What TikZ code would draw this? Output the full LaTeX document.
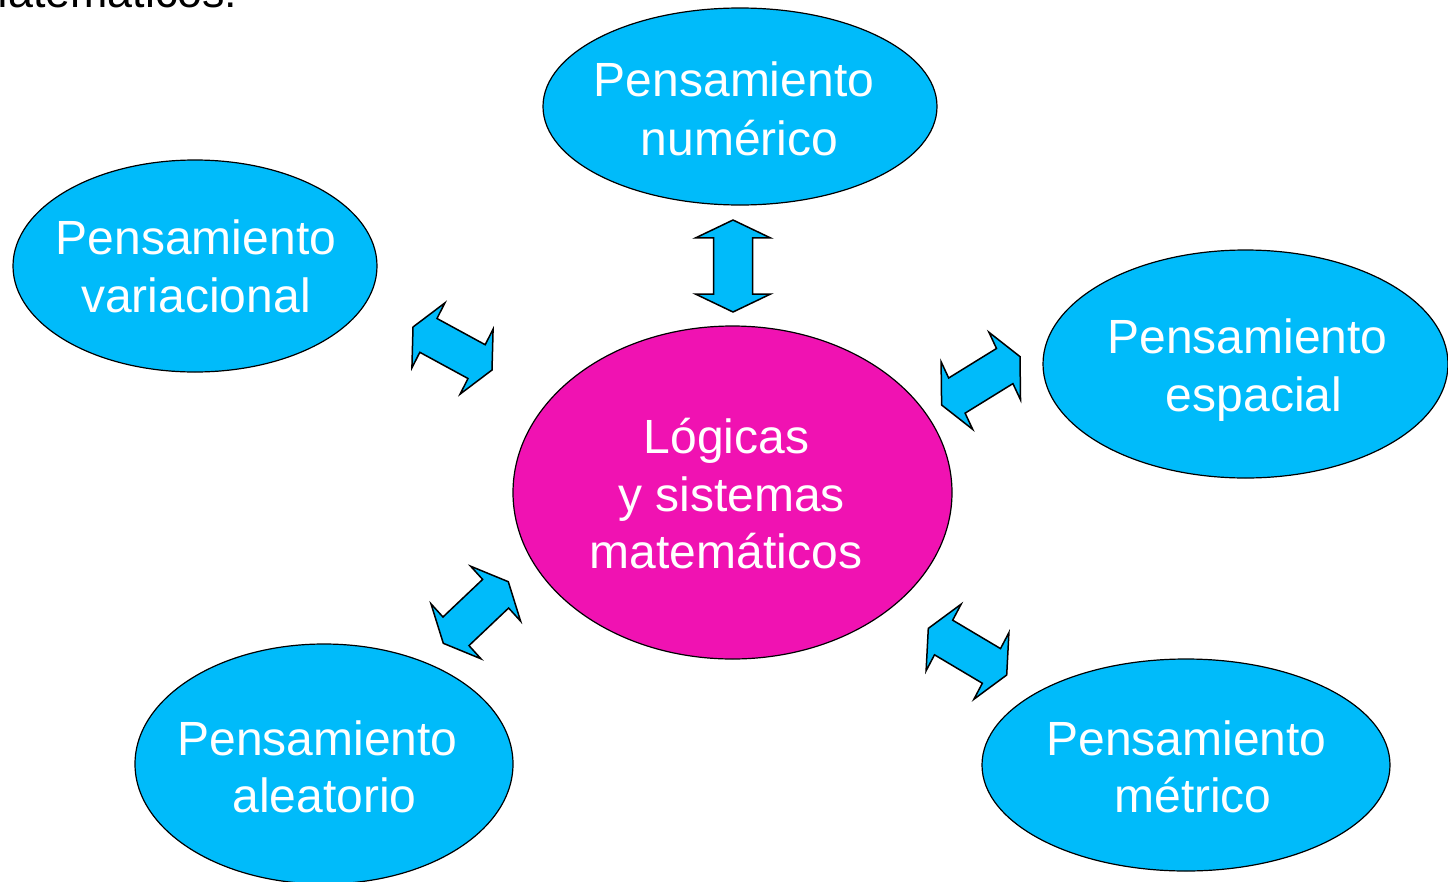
\documentclass[tikz,border=0pt]{standalone}
\usepackage{fontspec}
\setmainfont{Liberation Sans}
\usetikzlibrary{shapes.geometric}
\definecolor{skyfill}{RGB}{0,187,250}
\definecolor{magfill}{RGB}{240,18,178}
\tikzset{
  bubble/.style={ellipse, draw=black, line width=1.2pt, fill=skyfill, inner sep=0pt},
  hub/.style={ellipse, draw=black, line width=1.2pt, fill=magfill, inner sep=0pt},
  txt/.style={text=white, font=\fontsize{48}{56}\selectfont, inner sep=0pt, anchor=base},
  blockarrow/.style={draw=black, line width=1.5pt, fill=skyfill, line join=miter},
  dblarrow/.pic={
    \path[blockarrow] (0,1) -- (1,0.61) -- (0.52,0.61) -- (0.52,-0.61) -- (1,-0.61)
      -- (0,-1) -- (-1,-0.61) -- (-0.52,-0.61) -- (-0.52,0.61) -- (-1,0.61) -- cycle;
  }
}
\begin{document}
\begin{tikzpicture}[x=1pt,y=-1pt]
\useasboundingbox (0,0) rectangle (1448,881);

% title fragment cut by the top edge
\node[inner sep=0pt, anchor=base west, font=\fontsize{44.8}{50}\selectfont] (title) at (-29.3,7) {matemáticos:};

% ellipses
\node[bubble, minimum width=394pt, minimum height=197pt] (num) at (740,106.5) {};
\node[bubble, minimum width=364pt, minimum height=212pt] (var) at (195,266) {};
\node[bubble, minimum width=405pt, minimum height=228pt] (esp) at (1245.5,364) {};
\node[hub,    minimum width=439pt, minimum height=333pt] (log) at (732.5,492.5) {};
\node[bubble, minimum width=378pt, minimum height=240pt] (ale) at (324,764) {};
\node[bubble, minimum width=408pt, minimum height=212pt] (met) at (1186,765) {};

% texts
\node[txt] (num1) at (734,96) {Pensamiento};
\node[txt] (num2) at (739.5,155) {numérico};
\node[txt] (var1) at (196,254) {Pensamiento};
\node[txt] (var2) at (196,312) {variacional};
\node[txt] (esp1) at (1247.5,353.5) {Pensamiento};
\node[txt] (esp2) at (1254,411.5) {espacial};
\node[txt] (log1) at (726.5,453.5) {Lógicas};
\node[txt] (log2) at (731.5,511.5) {y sistemas};
\node[txt] (log3) at (726,568.5) {matemáticos};
\node[txt] (ale1) at (317.5,755.5) {Pensamiento};
\node[txt] (ale2) at (324.5,812.5) {aleatorio};
\node[txt] (met1) at (1186.5,755.5) {Pensamiento};
\node[txt] (met2) at (1193,812.5) {métrico};

% double block arrows (affine images of an up-down arrow)
\pic[shift={(733pt,-266pt)}, x={(37.5pt,0pt)}, y={(0pt,46pt)}] {dblarrow};
\pic[shift={(452.5pt,-348.5pt)}, x={(16.5pt,32.5pt)}, y={(-39.5pt,21.5pt)}] {dblarrow};
\pic[shift={(980.8pt,-380.8pt)}, x={(15.8pt,-33.8pt)}, y={(39.2pt,24.2pt)}] {dblarrow};
\pic[shift={(475.8pt,-612.5pt)}, x={(25pt,-27.5pt)}, y={(32.5pt,30.8pt)}] {dblarrow};
\pic[shift={(967.5pt,-651.7pt)}, x={(17.5pt,33.3pt)}, y={(39.2pt,-23.3pt)}] {dblarrow};
\end{tikzpicture}
\end{document}
